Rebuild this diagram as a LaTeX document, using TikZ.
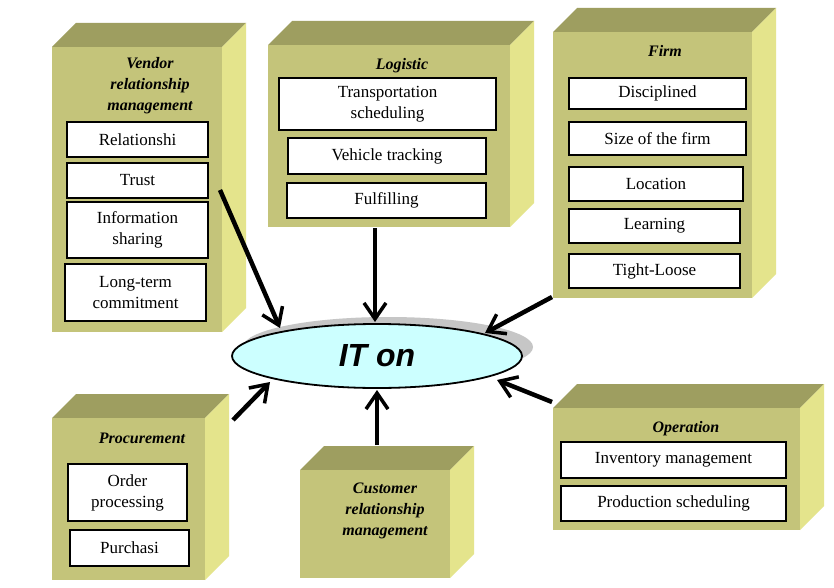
\documentclass[tikz,border=0pt]{standalone}
\usepackage{fontspec}
\setmainfont{Liberation Serif}
\newfontfamily\sansf{Liberation Sans}
\usetikzlibrary{shapes.geometric,arrows.meta}
\definecolor{cfront}{RGB}{196,196,122}
\definecolor{ctop}{RGB}{158,158,96}
\definecolor{cside}{RGB}{228,228,140}
\definecolor{cell}{RGB}{204,255,255}
\tikzset{
 item/.style={draw=black,line width=1.8pt,fill=white,font=\fontsize{17}{21}\selectfont,align=center,inner sep=0pt},
 ttl/.style={font=\fontsize{16}{21}\selectfont\bfseries\itshape,align=center},
 arr/.style={line width=4.5pt,-{Straight Barb[length=16pt,width=22pt,line width=3.5pt]}},
}
\newcommand{\cub}[5]{% name, x1,y1,x2,y2
 \fill[ctop] (#2,#3) -- ++(24,-24) -- (#4+24,#3-24) -- (#4,#3) -- cycle;
 \fill[cside] (#4,#3) -- ++(24,-24) -- (#4+24,#5-24) -- (#4,#5) -- cycle;
 \node[fill=cfront,inner sep=0pt,minimum width=#4-#2,minimum height=#5-#3] (#1) at ({(#2+#4)/2},{(#3+#5)/2}) {};
}
\newcommand{\itm}[6]{% name,x1,y1,x2,y2,text
 \node[item,minimum width=#4-#2,minimum height=#5-#3] (#1) at ({(#2+#4)/2},{(#3+#5)/2}) {#6};
}
\begin{document}
\begin{tikzpicture}[x=1pt,y=-1pt]
\useasboundingbox (0,0) rectangle (834,588);
\fill[white] (0,0) rectangle (834,588);
\cub{vrm}{52}{47}{222}{332}
\cub{log}{268}{45}{510}{227}
\cub{firm}{553}{32}{752}{298}
\cub{proc}{52}{418}{205}{580}
\cub{crm}{300}{470}{450}{578}
\cub{oper}{553}{408}{800}{530}
\node[ttl] (t1) at (150,86) {Vendor\\relationship\\management};
\node[ttl] (t2) at (402,66) {Logistic};
\node[ttl] (t3) at (665,51) {Firm};
\node[ttl] (t4) at (142,438) {Procurement};
\node[ttl] (t5) at (385,511) {Customer\\relationship\\management};
\node[ttl] (t6) at (686,429) {Operation};
\itm{a1}{67}{122}{208}{157}{Relationshi}
\itm{a2}{67}{163}{208}{198}{Trust}
\itm{a3}{67}{202}{208}{258}{Information\\sharing}
\itm{a4}{65}{264}{206}{321}{Long-term\\commitment}
\itm{b1}{279}{78}{496}{130}{Transportation\\scheduling}
\itm{b2}{288}{138}{486}{174}{Vehicle tracking}
\itm{b3}{287}{183}{486}{218}{Fulfilling}
\itm{c1}{569}{78}{746}{109}{Disciplined}
\itm{c2}{569}{122}{746}{155}{Size of the firm}
\itm{c3}{569}{167}{743}{201}{Location}
\itm{c4}{569}{209}{740}{243}{Learning}
\itm{c5}{569}{254}{740}{288}{Tight-Loose}
\itm{d1}{68}{464}{187}{521}{Order\\processing}
\itm{d2}{70}{530}{189}{566}{Purchasi}
\itm{e1}{561}{442}{786}{478}{Inventory management}
\itm{e2}{561}{486}{786}{521}{Production scheduling}
\fill[gray!45] (388,347) ellipse [x radius=145,y radius=30];
\node[ellipse,draw=black,line width=1.8pt,fill=cell,minimum width=290pt,minimum height=64pt,inner sep=0pt,font=\sansf\fontsize{32}{34}\selectfont\bfseries\itshape] (it) at (377,356) {IT on};
\coordinate (s1) at (220,190);
\coordinate (s2) at (375,228);
\coordinate (s3) at (552,297);
\coordinate (s4) at (233,420);
\coordinate (s5) at (377,445);
\coordinate (s6) at (552,402);
\coordinate (e1p) at (280,328);
\coordinate (e2p) at (375,322);
\coordinate (e3p) at (485,333);
\coordinate (e4p) at (270,382);
\coordinate (e5p) at (377,390);
\coordinate (e6p) at (497,380);
\draw[arr] (s1) -- (e1p);
\draw[arr] (s2) -- (e2p);
\draw[arr] (s3) -- (e3p);
\draw[arr] (s4) -- (e4p);
\draw[arr] (s5) -- (e5p);
\draw[arr] (s6) -- (e6p);
\end{tikzpicture}
\end{document}
